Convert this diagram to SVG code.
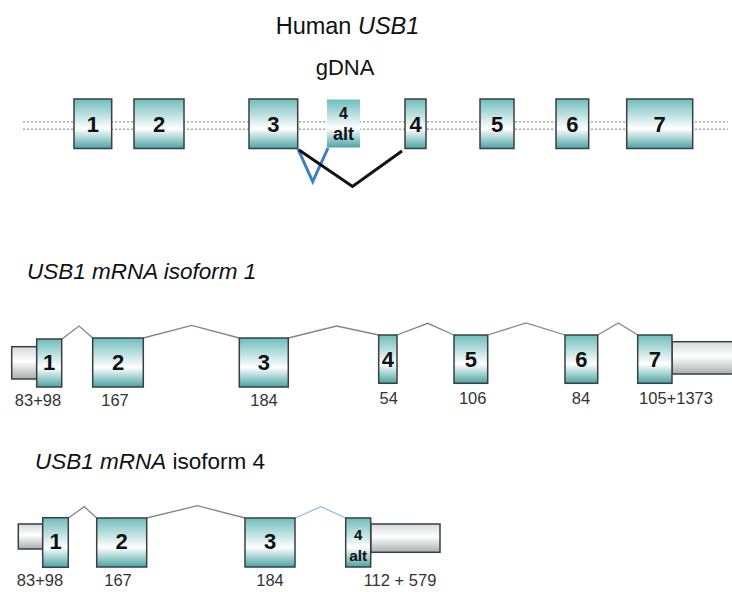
<svg xmlns="http://www.w3.org/2000/svg" width="732" height="592" viewBox="0 0 732 592">
<defs>
<linearGradient id="teal" x1="0" y1="0" x2="0" y2="1">
<stop offset="0" stop-color="#6fbdbd"/>
<stop offset="0.6" stop-color="#ffffff"/>
<stop offset="1" stop-color="#4ba4a4"/>
</linearGradient>
<linearGradient id="gray" x1="0" y1="0" x2="0" y2="1">
<stop offset="0" stop-color="#d6dada"/>
<stop offset="0.45" stop-color="#ffffff"/>
<stop offset="1" stop-color="#a6aeae"/>
</linearGradient>
</defs>
<style>
text{font-family:"Liberation Sans",Arial,sans-serif;fill:#111}
.ex{fill:url(#teal);stroke:#3a3f3f;stroke-width:1.5}
.alt{fill:url(#teal)}
.utr{fill:url(#gray);stroke:#3a3f3f;stroke-width:1.5}
.num{font-weight:bold;font-size:22px;text-anchor:middle}
.lbl{font-size:16.5px;text-anchor:middle;fill:#333}
.dot{stroke:#a8a8a8;stroke-width:1.6;stroke-dasharray:2.2 1.8;fill:none}
.intr{stroke:#858585;stroke-width:1.3;fill:none}
.title{font-size:22.5px}
</style>

<g id="titles">
<text x="347.5" y="34" font-size="23.5" text-anchor="middle">Human <tspan font-style="italic">USB1</tspan></text>
<text x="345" y="75" font-size="22" text-anchor="middle">gDNA</text>
<text class="title" x="27" y="279" font-style="italic">USB1 mRNA isoform 1</text>
<text class="title" x="35" y="469"><tspan font-style="italic">USB1 mRNA</tspan> isoform 4</text>
</g>

<g id="connectors">
<line class="dot" x1="23" y1="121.7" x2="728" y2="121.7"/>
<line class="dot" x1="23" y1="129.3" x2="728" y2="129.3"/>
<polyline points="298,149 312.7,181.7 328,148" fill="none" stroke="#3a7fc4" stroke-width="3"/>
<polyline points="299,150 352.5,186.5 402,151" fill="none" stroke="#111" stroke-width="3"/>
<polyline class="intr" points="62,339 79,326 92.7,338"/>
<polyline class="intr" points="143.3,338 191.7,325.3 239.3,338"/>
<polyline class="intr" points="288.3,338 336.7,326 378.7,335"/>
<polyline class="intr" points="397,335 427.7,323.3 454,335"/>
<polyline class="intr" points="487.7,335 526,323 565,335"/>
<polyline class="intr" points="597.7,335 618.3,323 637.7,335"/>
<polyline class="intr" points="68.3,518 84.3,506.7 96.7,518"/>
<polyline class="intr" points="146.7,518 197.3,505.7 245,518"/>
<polyline points="295,518 321,506.7 345.7,518" fill="none" stroke="#93bcd9" stroke-width="1.3"/>
</g>

<g id="g1"><rect class="ex" x="74" y="99" width="37.7" height="49.5"/><text class="num" x="92.8" y="132">1</text></g>
<g id="g2"><rect class="ex" x="134" y="99" width="50" height="49.5"/><text class="num" x="159" y="132">2</text></g>
<g id="g3"><rect class="ex" x="249" y="99" width="48.7" height="49.5"/><text class="num" x="273.3" y="132">3</text></g>
<g id="g4alt"><rect class="alt" x="327" y="99.5" width="33" height="48"/><text x="343.5" y="119" font-size="16" font-weight="bold" text-anchor="middle">4</text><text x="343.5" y="140" font-size="18" font-weight="bold" text-anchor="middle">alt</text></g>
<g id="g4"><rect class="ex" x="405" y="99" width="21" height="49.5"/><text class="num" x="415.5" y="132">4</text></g>
<g id="g5"><rect class="ex" x="480" y="99" width="34" height="49.5"/><text class="num" x="497" y="132">5</text></g>
<g id="g6"><rect class="ex" x="556" y="99" width="32.7" height="49.5"/><text class="num" x="572.3" y="132">6</text></g>
<g id="g7"><rect class="ex" x="626.7" y="99" width="66" height="49.5"/><text class="num" x="659.7" y="132">7</text></g>

<g id="i1e1"><rect class="utr" x="11.7" y="346.7" width="25" height="32.3"/><rect class="ex" x="36.7" y="339" width="25" height="48"/><text class="num" x="49.2" y="370" font-size="23">1</text><text class="lbl" x="38" y="406">83+98</text></g>
<g id="i1e2"><rect class="ex" x="92.7" y="338" width="50.6" height="49"/><text class="num" x="118" y="370" font-size="23">2</text><text class="lbl" x="115" y="406">167</text></g>
<g id="i1e3"><rect class="ex" x="239.3" y="338" width="49" height="49"/><text class="num" x="263.8" y="370" font-size="23">3</text><text class="lbl" x="264" y="406">184</text></g>
<g id="i1e4"><rect class="ex" x="378.7" y="335" width="18.3" height="48.3"/><text class="num" x="387.8" y="367" font-size="23">4</text><text class="lbl" x="388.7" y="404">54</text></g>
<g id="i1e5"><rect class="ex" x="454" y="335" width="33.7" height="48.3"/><text class="num" x="470.8" y="367" font-size="23">5</text><text class="lbl" x="472.7" y="404">106</text></g>
<g id="i1e6"><rect class="ex" x="565" y="335" width="32.7" height="48.3"/><text class="num" x="581.3" y="367" font-size="23">6</text><text class="lbl" x="581" y="404">84</text></g>
<g id="i1e7"><rect class="utr" x="672" y="341.7" width="64" height="32.3"/><rect class="ex" x="637.7" y="335" width="34.3" height="48.3"/><text class="num" x="654.8" y="367" font-size="23">7</text><text class="lbl" x="676" y="404">105+1373</text></g>

<g id="i4e1"><rect class="utr" x="18.3" y="524" width="24.4" height="25"/><rect class="ex" x="42.7" y="517.7" width="25.6" height="49.6"/><text class="num" x="55.5" y="549" font-size="23">1</text><text class="lbl" x="40" y="586">83+98</text></g>
<g id="i4e2"><rect class="ex" x="96.7" y="518" width="50" height="49"/><text class="num" x="121.7" y="549" font-size="23">2</text><text class="lbl" x="118" y="586">167</text></g>
<g id="i4e3"><rect class="ex" x="245" y="518" width="50" height="49"/><text class="num" x="270" y="549" font-size="23">3</text><text class="lbl" x="270" y="586">184</text></g>
<g id="i4e4alt"><rect class="utr" x="370.7" y="524" width="69.3" height="28.3"/><rect class="ex" x="345.7" y="518" width="25" height="49"/><text x="358.2" y="540" font-size="15" font-weight="bold" text-anchor="middle">4</text><text x="358.2" y="561" font-size="15.5" font-weight="bold" text-anchor="middle">alt</text><text class="lbl" x="400" y="586">112 + 579</text></g>
</svg>
